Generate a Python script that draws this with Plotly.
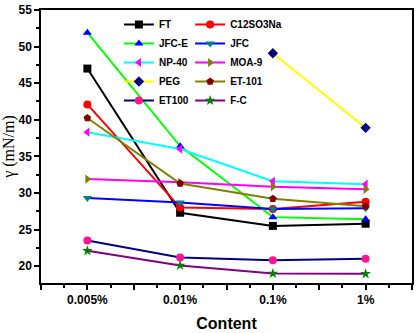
import plotly.graph_objects as go

content = ["0.005%", "0.01%", "0.1%", "1%"]

FT = [47.0, 27.3, 25.5, 25.8]
C12SO3Na = [42.1, 28.0, 27.8, 28.8]
JFC_E = [51.9, 36.4, 26.7, 26.4]
JFC = [29.3, 28.7, 27.8, 27.9]
NP_40 = [38.3, 36.0, 31.6, 31.2]
MOA_9 = [31.9, 31.45, 30.85, 30.5]
PEG = [None, None, 49.1, 38.9]
ET_101 = [40.25, 31.3, 29.2, 28.2]
ET100 = [23.5, 21.2, 20.8, 21.0]
F_C = [22.1, 20.1, 19.0, 18.95]

series = [
    ("FT", FT, "#000000", "#000000", "square", "legend"),
    ("C12SO3Na", C12SO3Na, "#FF0000", "#FF0000", "circle", "legend2"),
    ("JFC-E", JFC_E, "#00FF00", "#0000FF", "triangle-up", "legend"),
    ("JFC", JFC, "#0000FF", "#008080", "triangle-down", "legend2"),
    ("NP-40", NP_40, "#00FFFF", "#FF00FF", "triangle-left", "legend"),
    ("MOA-9", MOA_9, "#FF00FF", "#808000", "triangle-right", "legend2"),
    ("PEG", PEG, "#FFFF00", "#000080", "diamond", "legend"),
    ("ET-101", ET_101, "#808000", "#800000", "pentagon", "legend2"),
    ("ET100", ET100, "#000080", "#FF1493", "circle", "legend"),
    ("F-C", F_C, "#800080", "#008000", "star", "legend2"),
]

xpos = list(range(len(content)))

fig = go.Figure()
for name, vals, lc, mc, sym, lg in series:
    fig.add_trace(go.Scatter(
        x=xpos, y=vals, name=name, mode="lines+markers",
        line=dict(color=lc, width=2),
        marker=dict(color=mc, symbol=sym, size=8, line=dict(width=0)),
        legend=lg,
    ))

tickvals = [v / 2 for v in range(-1, 2 * len(content))]
ticktext = [content[int(v)] if float(v).is_integer() and 0 <= v < len(content) else "" for v in tickvals]

legend_font = dict(family="Liberation Sans", size=10, color="black", weight="bold")
fig.update_layout(
    width=417, height=333,
    margin=dict(l=41, r=3, t=10, b=50),
    paper_bgcolor="white", plot_bgcolor="white",
    legend=dict(x=0.21, y=1.0, xanchor="left", yanchor="top",
                bgcolor="rgba(0,0,0,0)", font=legend_font,
                itemwidth=30, tracegroupgap=0),
    legend2=dict(x=0.402, y=1.0, xanchor="left", yanchor="top",
                 bgcolor="rgba(0,0,0,0)", font=legend_font,
                 itemwidth=30, tracegroupgap=0),
    font=dict(family="Liberation Sans", color="black"),
)
fig.update_xaxes(
    range=[-0.5, len(content) - 0.5],
    tickmode="array", tickvals=tickvals, ticktext=ticktext,
    ticks="outside", ticklen=5, tickwidth=1.5, tickcolor="black",
    minor=dict(ticks="outside", ticklen=3, tickwidth=1.5, tickcolor="black", dtick=0.25, tick0=-0.5, showgrid=False),
    showline=True, linecolor="black", linewidth=1.5, mirror=True,
    showgrid=False, zeroline=False,
    tickfont=dict(family="Liberation Sans", size=12, color="black", weight="bold"),
    title=dict(text="Content", standoff=12,
               font=dict(family="Liberation Sans", size=16, color="black", weight="bold")),
)
fig.update_yaxes(
    range=[17.7, 55],
    tickmode="linear", tick0=20, dtick=5,
    ticks="outside", ticklen=5, tickwidth=1.5, tickcolor="black",
    minor=dict(ticks="outside", ticklen=3, tickwidth=1.5, tickcolor="black", dtick=2.5, tick0=20, showgrid=False),
    showline=True, linecolor="black", linewidth=1.5, mirror=True,
    showgrid=False, zeroline=False,
    tickfont=dict(family="Liberation Sans", size=12, color="black", weight="bold"),
    title=dict(text="γ (mN/m)", standoff=0,
               font=dict(family="Liberation Serif", size=16, color="black")),
)

fig.write_html("out.html", config={"displayModeBar": False},
               post_script="document.body.style.margin='0';")
